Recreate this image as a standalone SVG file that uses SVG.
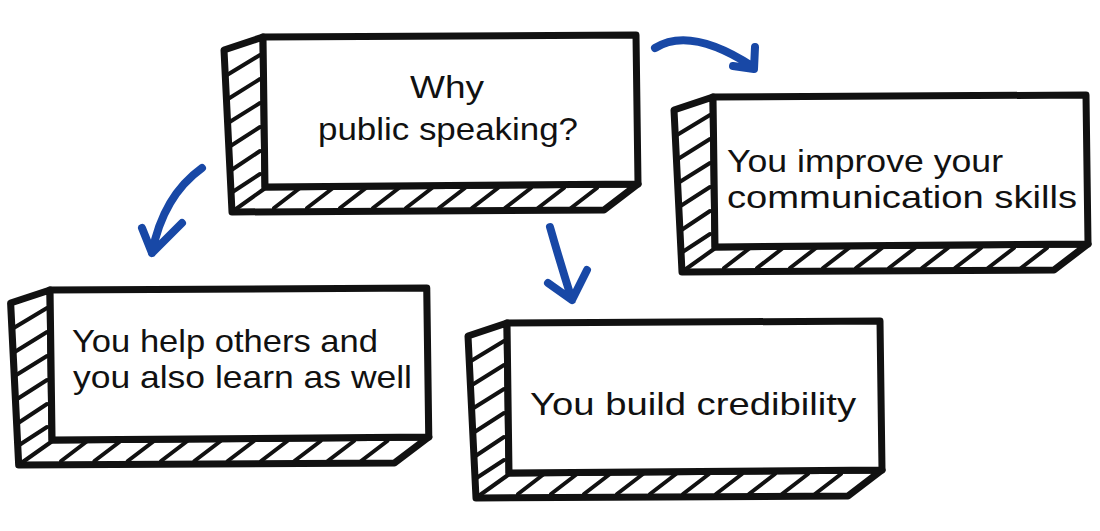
<svg xmlns="http://www.w3.org/2000/svg" xmlns:xlink="http://www.w3.org/1999/xlink" width="1100" height="531" viewBox="0 0 1100 531">
  <style>
    .edge { fill: #ffffff; stroke: #111111; stroke-width: 7; stroke-linejoin: round; stroke-linecap: round; }
    .hatch { fill: none; stroke: #111111; stroke-width: 4; stroke-linecap: round; }
    .label { font-family: "Liberation Sans", "DejaVu Sans", sans-serif; font-size: 32px; fill: #111111; }
    .arrow { fill: none; stroke: #1848a6; stroke-width: 8; stroke-linecap: round; stroke-linejoin: round; }
  </style>
  <defs>
    <g id="box">
      <path class="edge" d="M1,0 L-38,13 L-30,175 L342,173 L376,147 L3,150 Z"/>
      <g class="hatch">
        <path d="M-35,38 L-2,18 M-34,62 L-2,42 M-34,86 L-2,66 M-33,110 L-2,90 M-32,134 L-2,114 M-31,156 L-2,137"/>
        <path d="M-26,172 L2,152 M12,171 L38,151 M45,171 L71,151 M78,171 L104,151 M111,171 L137,151 M144,171 L170,151 M177,171 L203,151 M210,171 L236,151 M243,171 L269,151 M276,171 L302,151 M309,171 L335,151"/>
      </g>
      <path class="edge" d="M1,0 L374,-2 L376,147 L3,150 Z"/>
    </g>
  </defs>

  <g id="connectors">
    <path class="arrow" d="M655,48 Q690,26 752,66 M755,47 L754,69 L733,66"/>
    <path class="arrow" d="M202,168 Q163,196 152,253 M142,228 L152,253 L182,223"/>
    <path class="arrow" d="M550,227 Q560,262 572,300 M548,283 L572,300 L587,270"/>
  </g>

  <g id="node-why">
    <use xlink:href="#box" transform="translate(262,37)"/>
    <text class="label" x="447" y="98" text-anchor="middle" textLength="74" lengthAdjust="spacingAndGlyphs">Why</text>
    <text class="label" x="448" y="140" text-anchor="middle" textLength="260" lengthAdjust="spacingAndGlyphs">public speaking?</text>
  </g>

  <g id="node-communication">
    <use xlink:href="#box" transform="translate(712,97)"/>
    <text class="label" x="727" y="172" textLength="276" lengthAdjust="spacingAndGlyphs">You improve your</text>
    <text class="label" x="727" y="208" textLength="350" lengthAdjust="spacingAndGlyphs">communication skills</text>
  </g>

  <g id="node-help-others">
    <use xlink:href="#box" transform="translate(49,290) scale(1.01,1)"/>
    <text class="label" x="72" y="352" textLength="306" lengthAdjust="spacingAndGlyphs">You help others and</text>
    <text class="label" x="73" y="388" textLength="339" lengthAdjust="spacingAndGlyphs">you also learn as well</text>
  </g>

  <g id="node-credibility">
    <use xlink:href="#box" transform="translate(506,323)"/>
    <text class="label" x="530" y="415" textLength="326" lengthAdjust="spacingAndGlyphs">You build credibility</text>
  </g>
</svg>
